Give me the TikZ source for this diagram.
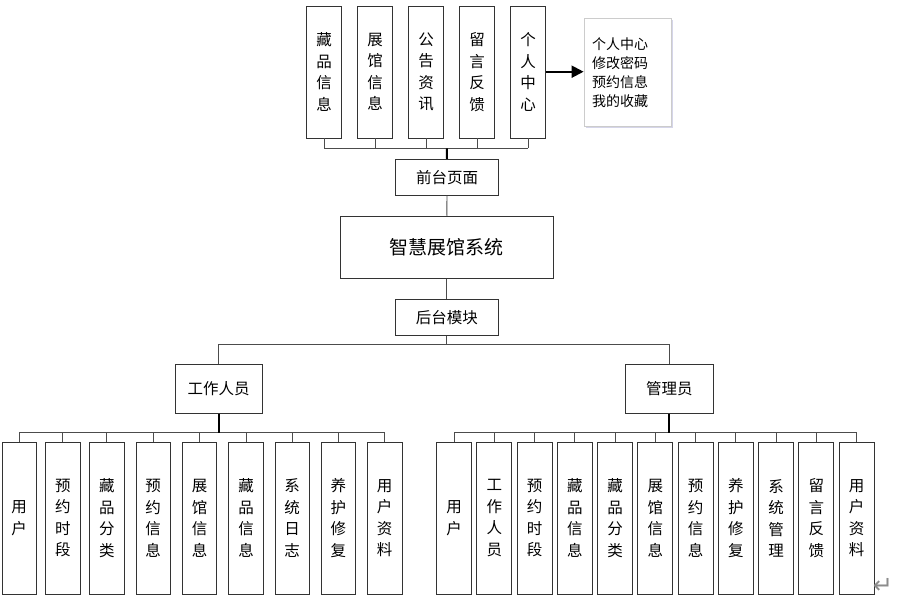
\documentclass[tikz,border=0pt]{standalone}
\usepackage{fontspec}
\newfontfamily\cjk{Noto Sans CJK SC}
\newfontfamily\dejavu{DejaVu Sans}
\usetikzlibrary{arrows.meta,shadows}
\begin{document}
\begin{tikzpicture}[x=1pt,y=-1pt,
  box/.style={draw=black!80,line width=0.9pt,fill=white,inner sep=0pt,align=center,
    font=\cjk\fontsize{15.5}{21.5}\selectfont},
  vbox/.style={box,minimum width=35,minimum height=132},
  lbox/.style={box,minimum width=34.5,minimum height=152},
  wire/.style={draw=black!70,line width=0.9pt},
  thick wire/.style={draw=black,line width=2pt}]
\useasboundingbox (0,0) rectangle (897,599);
% top modules
\foreach \i/\t in {0/藏\\品\\信\\息,1/展\\馆\\信\\息,2/公\\告\\资\\讯,3/留\\言\\反\\馈,4/个\\人\\中\\心}{
  \node[vbox] (T\i) at ({324+51*\i},72) {\t};
}
\coordinate (tbus) at (446.8,148.3);
\foreach \i in {0,...,4}{ \draw[wire] (T\i.south) -- (T\i.south |- tbus); }
\draw[wire] (T0.south |- tbus) -- (T4.south |- tbus);
\node[box,minimum width=103,minimum height=35.7] (front) at (447,177.2) {前台页面};
\draw[thick wire] (tbus) -- (front.north);
% callout
\node[draw=black!20,line width=0.8pt,fill=white,drop shadow={shadow xshift=2pt,shadow yshift=-2pt,opacity=0.25,fill=blue!30!gray},
  minimum width=87,minimum height=108,text width=71,align=left,inner sep=0pt,
  font=\cjk\fontsize{14}{18.9}\selectfont] (call) at (627.5,72.5)
  {个人中心\\修改密码\\预约信息\\我的收藏};
\draw[line width=2pt,-{Triangle[length=12pt,width=12pt]}] (T4.east |- 0,71.7) -- (call.west |- 0,71.7);
% system
\node[box,minimum width=213,minimum height=62,font=\cjk\fontsize{19}{22}\selectfont] (sys) at (446.8,247.2) {智慧展馆系统};
\draw[wire] (front.south) -- (sys.north);
\node[box,minimum width=103,minimum height=36.3] (back) at (446.8,317.2) {后台模块};
\draw[wire] (sys.south) -- (back.north);
\node[box,minimum width=87.5,minimum height=49] (staff) at (218.7,388.8) {工作人员};
\node[box,minimum width=87.5,minimum height=49] (admin) at (669.4,388.8) {管理员};
\coordinate (mbus) at (446.8,344.7);
\draw[wire] (back.south) -- (mbus);
\draw[wire] (staff.north) |- (mbus) -| (admin.north);
% staff children
\foreach \i/\x/\t in {1/19.2/用\\户,2/62.8/预\\约\\时\\段,3/106.8/藏\\品\\分\\类,4/153.2/预\\约\\信\\息,5/199.5/展\\馆\\信\\息,6/246/藏\\品\\信\\息,7/292.2/系\\统\\日\\志,8/338.3/养\\护\\修\\复,9/384.7/用\\户\\资\\料}{
  \node[lbox] (S\i) at (\x,518.2) {\t};
}
\coordinate (sbus) at (218.7,432.7);
\foreach \i in {1,...,9}{ \draw[wire] (S\i.north) -- (S\i.north |- sbus); }
\draw[wire] (S1.north |- sbus) -- (S9.north |- sbus);
\draw[thick wire] (staff.south) -- (sbus);
% admin children
\foreach \i/\t in {0/用\\户,1/工\\作\\人\\员,2/预\\约\\时\\段,3/藏\\品\\信\\息,4/藏\\品\\分\\类,5/展\\馆\\信\\息,6/预\\约\\信\\息,7/养\\护\\修\\复,8/系\\统\\管\\理,9/留\\言\\反\\馈,10/用\\户\\资\\料}{
  \node[lbox,minimum width=35] (A\i) at ({454+40.25*\i},518.2) {\t};
}
\coordinate (abus) at (669.4,432.7);
\foreach \i in {0,...,10}{ \draw[wire] (A\i.north) -- (A\i.north |- abus); }
\draw[wire] (A0.north |- abus) -- (A10.north |- abus);
\draw[thick wire] (admin.south) -- (abus);
% paragraph mark
\node[text=black!45,font=\dejavu\fontsize{24}{24}\selectfont,inner sep=0pt] (pm) at (883,586) {↵};
\end{tikzpicture}
\end{document}
